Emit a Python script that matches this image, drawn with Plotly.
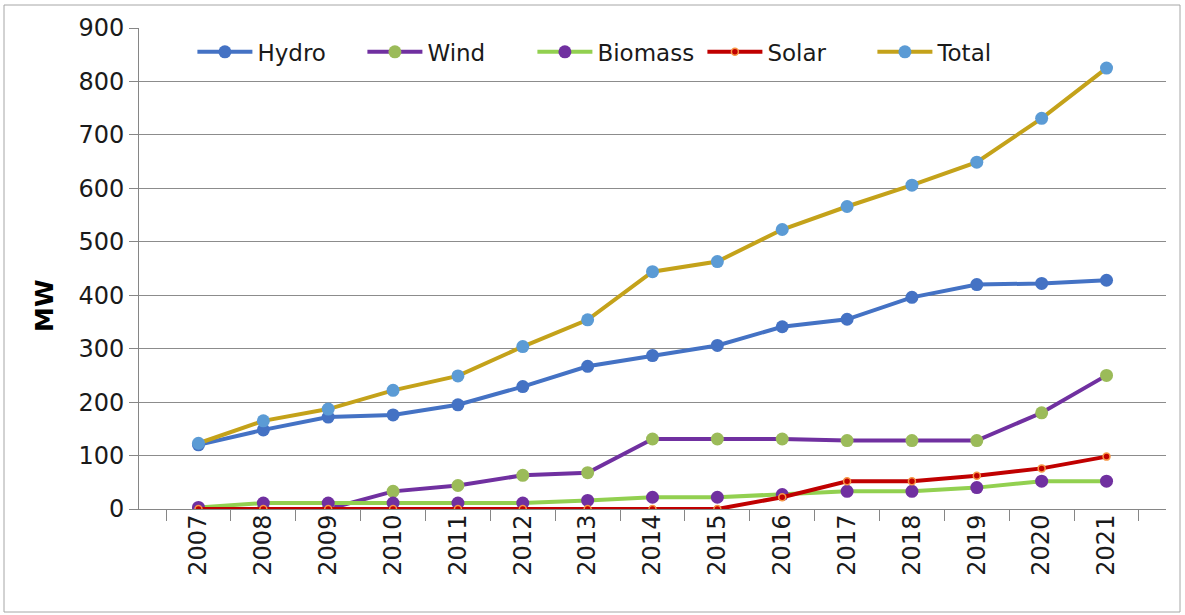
import plotly.graph_objects as go

years = [str(y) for y in range(2007, 2022)]
hydro = [120, 148, 172, 176, 195, 229, 267, 287, 306, 341, 355, 396, 420, 422, 428]
wind = [0, 0, 0, 33, 44, 63, 68, 131, 131, 131, 128, 128, 128, 180, 250]
biomass = [3, 11, 11, 11, 11, 11, 16, 22, 22, 27, 33, 33, 40, 52, 52]
solar = [0, 0, 0, 0, 0, 0, 0, 0, 0, 22, 52, 52, 62, 76, 98]
total = [123, 165, 187, 222, 249, 304, 354, 444, 463, 523, 566, 606, 649, 731, 825]
y_ticks = [0, 100, 200, 300, 400, 500, 600, 700, 800, 900]

FONT = "DejaVu Sans"
TXT = "#1a1a1a"

fig = go.Figure()
fig.add_trace(go.Scatter(x=years, y=hydro, name="Hydro", mode="lines+markers",
                         line=dict(color="#4472C4", width=4),
                         marker=dict(color="#4472C4", size=13)))
fig.add_trace(go.Scatter(x=years, y=wind, name="Wind", mode="lines+markers",
                         line=dict(color="#7030A0", width=4),
                         marker=dict(color="#9BBB59", size=13)))
fig.add_trace(go.Scatter(x=years, y=biomass, name="Biomass", mode="lines+markers",
                         line=dict(color="#92D050", width=4),
                         marker=dict(color="#7030A0", size=13)))
fig.add_trace(go.Scatter(x=years, y=solar, name="Solar", mode="lines+markers",
                         line=dict(color="#C00000", width=4),
                         marker=dict(color="#C00000", size=7,
                                     line=dict(color="#F79646", width=1.5))))
fig.add_trace(go.Scatter(x=years, y=total, name="Total", mode="lines+markers",
                         line=dict(color="#C4A21A", width=4),
                         marker=dict(color="#5B9BD5", size=13)))

fig.update_layout(
    width=1185, height=615,
    margin=dict(l=139, r=19, t=28, b=106),
    paper_bgcolor="white", plot_bgcolor="white",
    font=dict(family=FONT, size=24, color=TXT),
    legend=dict(orientation="h", x=0.052, y=0.995, xanchor="left", yanchor="top",
                bgcolor="rgba(0,0,0,0)", font=dict(size=23, family=FONT, color=TXT),
                itemwidth=55, tracegroupgap=0, entrywidth=100, entrywidthmode="pixels"),
    showlegend=True,
    annotations=[dict(text="<b>MW</b>", xref="paper", yref="paper",
                      x=(45 - 139) / 1027, y=(509 - 306) / 481,
                      xanchor="center", yanchor="middle", textangle=-90,
                      showarrow=False, font=dict(size=25, family=FONT, color="#000000"))],
    shapes=[dict(type="rect", xref="paper", yref="paper",
                 x0=(4 - 139) / 1027, x1=(1180 - 139) / 1027,
                 y0=-(612 - 509) / 481, y1=(509 - 5) / 481,
                 line=dict(color="#A6A6A6", width=1), fillcolor="rgba(0,0,0,0)",
                 layer="below")],
)
fig.update_xaxes(type="category", tickangle=-90, ticks="outside", ticklen=11,
                 tickcolor="#868686", tickson="boundaries", showline=True,
                 linecolor="#868686", linewidth=1, showgrid=False,
                 ticklabelstandoff=-5,
                 tickfont=dict(size=24, family=FONT, color=TXT))
fig.update_yaxes(range=[0, 900], tickvals=y_ticks, ticks="outside", ticklen=9,
                 tickcolor="#868686", showline=True, linecolor="#868686",
                 linewidth=1, showgrid=True, gridcolor="#8C8C8C", gridwidth=1,
                 zeroline=False,
                 tickfont=dict(size=24, family=FONT, color=TXT))

fig.write_html("out.html")
